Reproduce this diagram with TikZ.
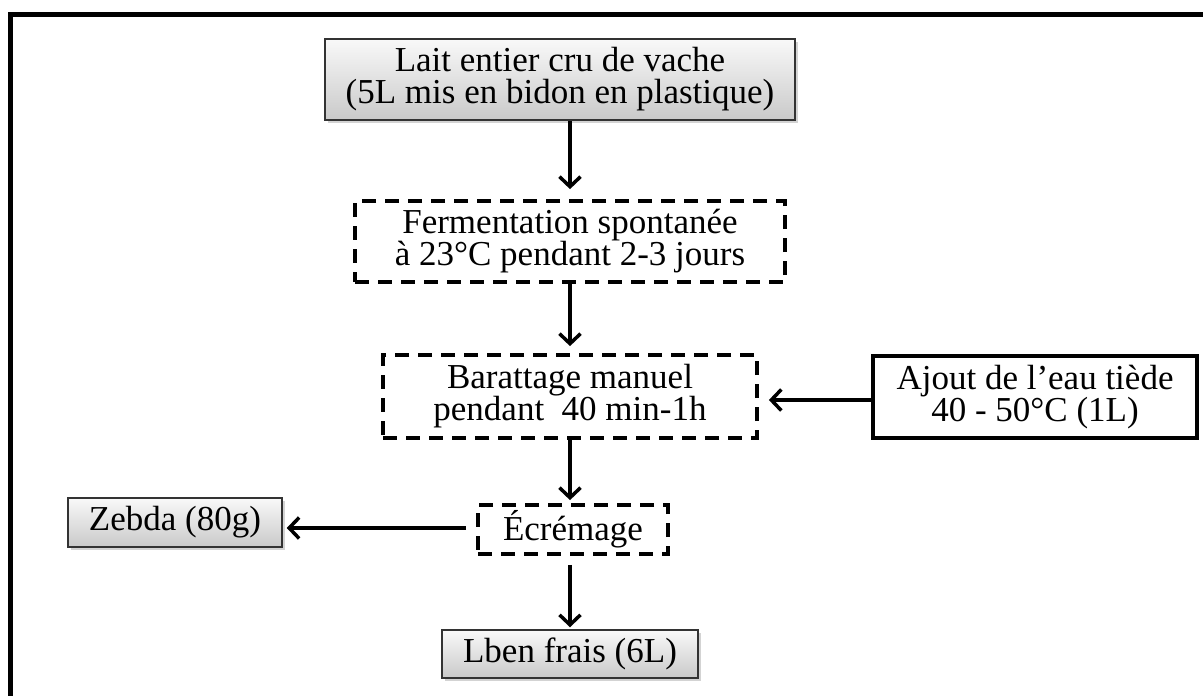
\documentclass[tikz,border=0pt]{standalone}
\usepackage{fontspec}
\setmainfont{Liberation Serif}
\usetikzlibrary{arrows.meta,shadows}
\begin{document}
\begin{tikzpicture}[x=1pt,y=-1pt,
  every node/.style={font=\fontsize{35}{32}\selectfont, align=center, inner sep=0pt},
  graybox/.style={draw=black!80, line width=1.5pt, top color=gray!5, bottom color=gray!42,
     drop shadow={shadow xshift=2.5pt, shadow yshift=-2.5pt, opacity=0.35}},
  dashbox/.style={draw=black, line width=3.8pt, dash pattern=on 14pt off 9pt, fill=white},
  whitebox/.style={draw=black, line width=4pt, fill=white,
     drop shadow={shadow xshift=2pt, shadow yshift=-2pt, opacity=0.3}},
  arr/.style={line width=4pt, -{Straight Barb[length=10pt,width=21pt,line width=3.5pt]}}
]
\useasboundingbox (0,0) rectangle (1203,696);
\coordinate (fa) at (10.5,700);
\coordinate (fb) at (10.5,14.5);
\coordinate (fc) at (1210,14.5);
\draw[line width=4.5pt] (fa) -- (fb) -- (fc);

\node[graybox, minimum width=470pt, minimum height=81pt] (lait) at (560,79.5)
  {Lait entier cru de vache\\(5L mis en bidon en plastique)};
\node[dashbox, minimum width=430pt, minimum height=81pt] (ferm) at (570,241.5)
  {Fermentation spontanée\\à 23°C pendant 2-3 jours};
\node[dashbox, minimum width=374pt, minimum height=83pt] (bar) at (570,396.5)
  {Barattage manuel\\pendant\ \ 40 min-1h};
\node[whitebox, minimum width=324pt, minimum height=82pt] (eau) at (1035,397)
  {Ajout de l’eau tiède\\40 - 50°C (1L)};
\node[dashbox, minimum width=190pt, minimum height=49pt] (ecr) at (573,529.5)
  {Écrémage};
\node[graybox, minimum width=214pt, minimum height=49pt] (zeb) at (175,522.5)
  {Zebda (80g)};
\node[graybox, minimum width=256pt, minimum height=48pt] (lben) at (570,654)
  {Lben frais (6L)};

\draw[arr, shorten >=10pt] (lait.south -| ferm.north) -- (ferm.north);
\draw[arr, shorten >=7pt] (ferm.south) -- (bar.north);
\draw[arr, shorten >=3pt] (bar.south) -- (bar.south |- ecr.north);
\draw[arr, shorten <=9pt, shorten >=2pt] (bar.south |- ecr.south) -- (lben.north);
\coordinate (eaul) at ([yshift=-3pt]eau.west);
\draw[arr, shorten >=10pt] (eaul) -- (eaul -| bar.east);
\coordinate (ecrl) at ([xshift=-10pt,yshift=1.5pt]ecr.west);
\draw[arr, shorten >=4pt] (ecrl) -- (ecrl -| zeb.east);
\end{tikzpicture}
\end{document}
